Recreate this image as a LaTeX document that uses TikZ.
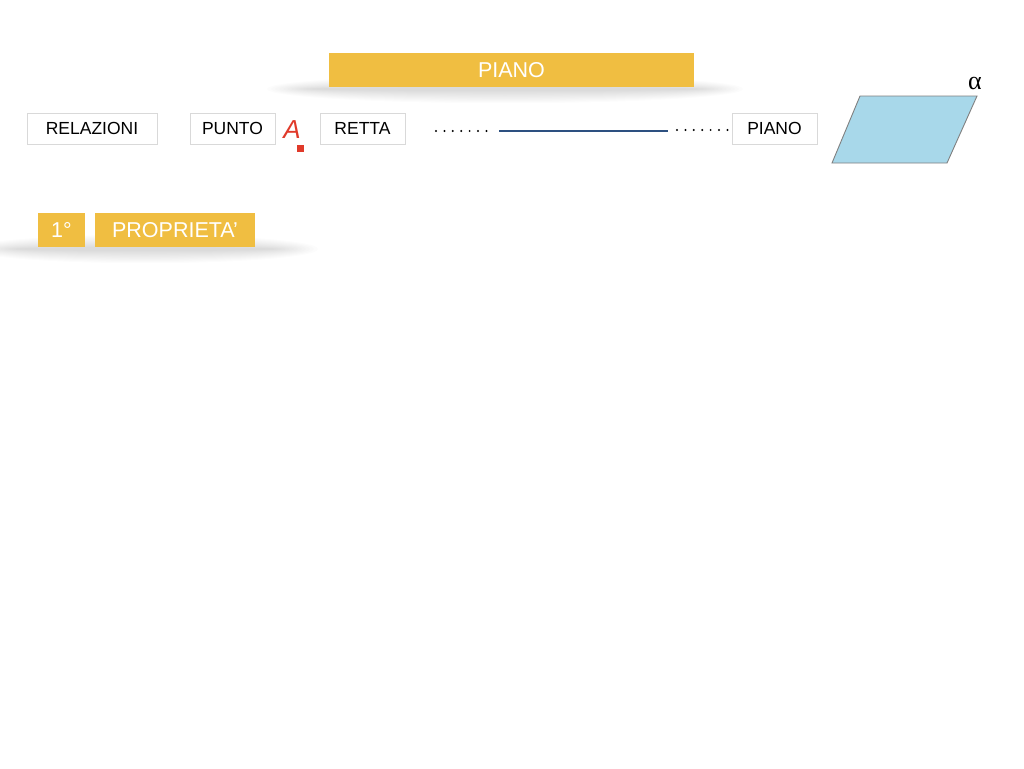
\documentclass[tikz,border=0pt]{standalone}
\usepackage{fontspec}
\setmainfont{Liberation Sans}
\newfontfamily\greekserif{Liberation Serif}
\usetikzlibrary{calc}
\definecolor{bargold}{HTML}{F0BE41}
\definecolor{planeblue}{HTML}{A8D8EA}
\definecolor{lineblue}{HTML}{2D5080}
\definecolor{ared}{HTML}{E03A2A}
\begin{document}
\begin{tikzpicture}[x=1pt,y=-1pt,
  labelbox/.style={draw=black!15,line width=0.8pt,fill=white,inner sep=0pt,font=\fontsize{17.5}{20}\selectfont,text=black},
  goldbar/.style={fill=bargold,inner sep=0pt,font=\fontsize{21.5}{24}\selectfont,text=white},
  dotline/.style={line width=2.2pt,dash pattern=on 0pt off 8.4pt,line cap=round}
]
\useasboundingbox (0,0) rectangle (1024,768);
\fill[white] (0,0) rectangle (1024,768);
% shadows
\foreach \i in {1,...,12}{
  \fill[black,opacity=0.012] (505,89) ellipse ({190+\i*4} and {1+\i*1.1});
  \fill[black,opacity=0.012] (145,249) ellipse ({125+\i*4} and {1+\i*1.1});
}
% title bar
\node[goldbar,minimum width=365pt,minimum height=34pt] (title) at (511.5,70) {PIANO};
% row of labels
\node[labelbox,minimum width=130pt,minimum height=31pt] (rel) at (92,128.5) {RELAZIONI};
\node[labelbox,minimum width=85pt,minimum height=31pt] (punto) at (232.5,128.5) {PUNTO};
\node[text=ared,inner sep=0pt,font=\fontsize{26}{28}\selectfont\itshape] (A) at (292,130) {A};
\fill[ared] (297,145) rectangle (304,152);
\node[labelbox,minimum width=85pt,minimum height=31pt] (retta) at (362.5,128.5) {RETTA};
\node[labelbox,minimum width=85pt,minimum height=31pt] (piano) at (774.5,128.5) {PIANO};
\coordinate (d1s) at (436,131);
\coordinate (d1e) at (494,131);
\coordinate (ls) at (499,131);
\coordinate (le) at (668,131);
\coordinate (d2s) at (677,130);
\coordinate (d2e) at (735,130);
\draw[dotline] (d1s) -- (d1e);
\draw[lineblue,line width=1.6pt] (ls) -- (le);
\draw[dotline] (d2s) -- (d2e);
% plane
\draw[fill=planeblue,draw=black!50,line width=0.9pt] (860,96) coordinate (p1) -- (977,96) coordinate (p2) -- (947,163) coordinate (p3) -- (832,163) coordinate (p4) -- cycle;
\node[font=\greekserif\fontsize{26}{28}\selectfont,inner sep=0pt] (alpha) at (975,83) {α};
% property bars
\node[goldbar,minimum width=47pt,minimum height=34pt] (one) at (61.5,230) {1°};
\node[goldbar,minimum width=160pt,minimum height=34pt] (prop) at (175,230) {PROPRIETA’};
\end{tikzpicture}
\end{document}
